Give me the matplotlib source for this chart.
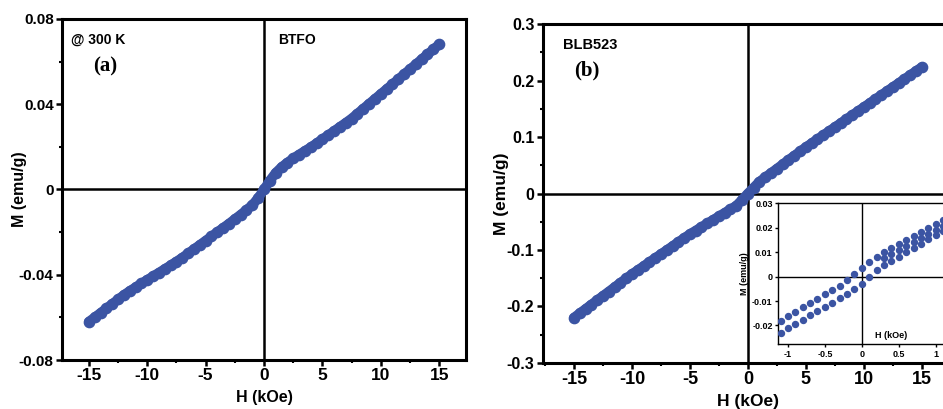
import numpy as np
import matplotlib
matplotlib.use("Agg")
import matplotlib.pyplot as plt
from matplotlib.ticker import MultipleLocator

plt.rcParams['font.family'] = ['Liberation Sans', 'DejaVu Sans']
plt.rcParams['font.weight'] = 'bold'
plt.rcParams['axes.unicode_minus'] = False

# ----- data -----
H = np.arange(-15, 15.01, 0.5)

M_btfo = [-0.0620, -0.0600, -0.0579, -0.0558, -0.0537, -0.0516, -0.0495, -0.0476,
          -0.0459, -0.0441, -0.0424, -0.0407, -0.0390, -0.0373, -0.0356, -0.0338,
          -0.0320, -0.0300, -0.0280, -0.0260, -0.0240, -0.0220, -0.0200, -0.0180,
          -0.0160, -0.0139, -0.0118, -0.0096, -0.0073, -0.0040, 0.0000,
          0.0042, 0.0078, 0.0105, 0.0126, 0.0146, 0.0164, 0.0181, 0.0198,
          0.0217, 0.0236, 0.0255, 0.0274, 0.0294, 0.0313, 0.0333, 0.0356,
          0.0379, 0.0402, 0.0425, 0.0448, 0.0471, 0.0494, 0.0517, 0.0541,
          0.0564, 0.0587, 0.0611, 0.0634, 0.0657, 0.0681]

M_blb = [-0.2200, -0.2123, -0.2046, -0.1969, -0.1892, -0.1815, -0.1738, -0.1661,
         -0.1584, -0.1507, -0.1430, -0.1359, -0.1288, -0.1217, -0.1146, -0.1075,
         -0.1004, -0.0933, -0.0862, -0.0791, -0.0720, -0.0657, -0.0594, -0.0531,
         -0.0468, -0.0405, -0.0342, -0.0279, -0.0218, -0.0110, 0.0000,
         0.0105, 0.0210, 0.0287, 0.0363, 0.0440, 0.0516, 0.0593, 0.0670,
         0.0745, 0.0820, 0.0891, 0.0962, 0.1033, 0.1104, 0.1175, 0.1246,
         0.1317, 0.1388, 0.1459, 0.1530, 0.1601, 0.1672, 0.1743, 0.1814,
         0.1885, 0.1956, 0.2027, 0.2098, 0.2169, 0.2240]

# inset (low field loop)
Hi_up = np.round(np.arange(-1.1, 1.101, 0.1), 2)
Mi_up = [-0.0180, -0.0162, -0.0144, -0.0126, -0.0108, -0.0090, -0.0073, -0.0055,
         -0.0037, -0.0014, 0.0010, 0.0034, 0.0058, 0.0080, 0.0102, 0.0118,
         0.0134, 0.0150, 0.0166, 0.0182, 0.0198, 0.0214, 0.0230]

Hi_low = np.round(np.arange(-1.1, 0.201, 0.1), 2)
Mi_low = [-0.0229, -0.0211, -0.0194, -0.0176, -0.0159, -0.0141, -0.0124, -0.0106,
          -0.0089, -0.0070, -0.0050, -0.0030, -0.0003, 0.0028]

Hi_pos = np.round(np.arange(0.3, 1.101, 0.1), 2)
Mi_mid = [0.0075, 0.0091, 0.0108, 0.0124, 0.0141, 0.0157, 0.0174, 0.0190, 0.0207]
Mi_bot = [0.0047, 0.0065, 0.0082, 0.0100, 0.0117, 0.0135, 0.0152, 0.0170, 0.0187]

blue = '#3b54a3'
W, Hpx = 943, 409

fig = plt.figure(figsize=(9.43, 4.09), dpi=100)

def px(l, t, r, b):
    return [l / W, 1 - b / Hpx, (r - l) / W, (b - t) / Hpx]

def style(ax, fs):
    for s in ax.spines.values():
        s.set_linewidth(2.2)
    ax.tick_params(which='major', direction='out', length=4, width=1.8, labelsize=fs, pad=2)
    ax.tick_params(which='minor', direction='out', length=2.5, width=1.5)
    ax.axhline(0, color='black', lw=1.8, zorder=1)
    ax.axvline(0, color='black', lw=1.8, zorder=1)

# ----- (a) BTFO -----
ax1 = fig.add_axes(px(62, 19, 466, 360))
ax1.plot(H, M_btfo, '-o', color=blue, ms=7.4, lw=7, solid_capstyle='round', zorder=3)
ax1.set_xlim(-17.3, 17.3)
ax1.set_ylim(-0.08, 0.08)
ax1.set_xticks([-15, -10, -5, 0, 5, 10, 15])
ax1.set_xticklabels(['-15', '-10', '-5', '0', '5', '10', '15'])
ax1.xaxis.set_minor_locator(MultipleLocator(2.5))
ax1.set_yticks([-0.08, -0.04, 0, 0.04, 0.08])
ax1.set_yticklabels(['-0.08', '-0.04', '0', '0.04', '0.08'])
ax1.yaxis.set_minor_locator(MultipleLocator(0.02))
style(ax1, 11)
ax1.tick_params(axis='x', labelsize=12.5)
ax1.set_xlabel('H (kOe)', fontsize=11.5, fontweight='bold')
ax1.set_ylabel('M (emu/g)', fontsize=11.5, fontweight='bold')
ax1.yaxis.set_label_coords(-0.104, 0.5)
ax1.xaxis.set_label_coords(0.5, -0.111)
ax1.xaxis.label.set_va('center')
ax1.yaxis.label.set_va('center')
fig.text(71 / W, 1 - 40 / Hpx, '@ 300 K', fontsize=10, fontweight='bold', va='center')
fig.text(105 / W, 1 - 66 / Hpx, '(a)', fontsize=15, fontweight='bold', va='center', ha='center',
         family='Liberation Serif')
fig.text(278 / W, 1 - 40 / Hpx, 'BTFO', fontsize=10, fontweight='bold', va='center')

# ----- (b) BLB523 -----
ax2 = fig.add_axes(px(542.7, 24.3, 953, 362.7))
ax2.plot(H, M_blb, '-o', color=blue, ms=7.4, lw=7, solid_capstyle='round', zorder=3)
ax2.set_xlim(-17.7, 17.7)
ax2.set_ylim(-0.3, 0.3)
ax2.set_xticks([-15, -10, -5, 0, 5, 10, 15])
ax2.set_xticklabels(['-15', '-10', '-5', '0', '5', '10', '15'])
ax2.xaxis.set_minor_locator(MultipleLocator(2.5))
ax2.set_yticks([-0.3, -0.2, -0.1, 0, 0.1, 0.2, 0.3])
ax2.set_yticklabels(['-0.3', '-0.2', '-0.1', '0', '0.1', '0.2', '0.3'])
ax2.yaxis.set_minor_locator(MultipleLocator(0.05))
style(ax2, 11.5)
ax2.tick_params(axis='x', labelsize=13)
ax2.set_xlabel('H (kOe)', fontsize=12.5, fontweight='bold')
ax2.set_ylabel('M (emu/g)', fontsize=12.5, fontweight='bold')
ax2.yaxis.set_label_coords(-0.1, 0.5)
ax2.xaxis.set_label_coords(0.5, -0.115)
ax2.xaxis.label.set_va('center')
ax2.yaxis.label.set_va('center')
fig.text(563 / W, 1 - 45 / Hpx, 'BLB523', fontsize=10.5, fontweight='bold', va='center')
fig.text(587 / W, 1 - 70 / Hpx, '(b)', fontsize=15, fontweight='bold', va='center', ha='center',
         family='Liberation Serif')

# ----- inset -----
ax3 = fig.add_axes(px(778.3, 203.3, 945.4, 344.3))
ax3.set_facecolor('white')
ax3.set_zorder(5)
for hh, mm in [(Hi_up, Mi_up), (Hi_low, Mi_low), (Hi_pos, Mi_mid), (Hi_pos, Mi_bot)]:
    ax3.plot(hh, mm, 'o', color=blue, ms=4.3, zorder=3)
ax3.set_xlim(-1.13, 1.13)
ax3.set_ylim(-0.0277, 0.03)
ax3.set_xticks([-1, -0.5, 0, 0.5, 1])
ax3.set_xticklabels(['-1', '-0.5', '0', '0.5', '1'])
ax3.set_yticks([-0.02, -0.01, 0, 0.01, 0.02, 0.03])
ax3.set_yticklabels(['-0.02', '-0.01', '0', '0.01', '0.02', '0.03'])
for s in ax3.spines.values():
    s.set_linewidth(1.0)
ax3.tick_params(direction='out', length=2.5, width=1, labelsize=6.5, pad=1.5)
ax3.axhline(0, color='black', lw=1.0, zorder=1)
ax3.axvline(0, color='black', lw=1.0, zorder=1)
ax3.text(0.4, -0.0243, 'H (kOe)', fontsize=6.5, fontweight='bold', ha='center', va='center')
ax3.set_ylabel('M (emu/g)', fontsize=6.5, fontweight='bold', labelpad=2)

fig.savefig('out.png', dpi=100)
